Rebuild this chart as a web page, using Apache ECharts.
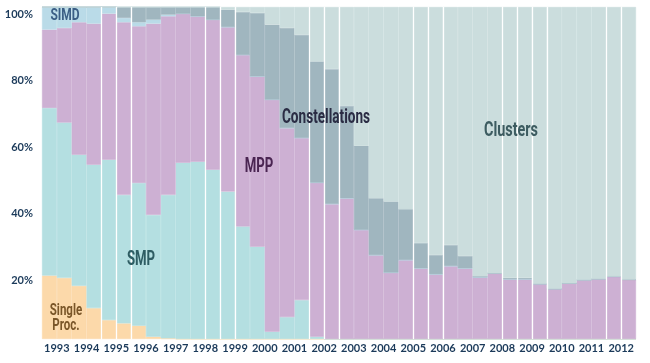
<!DOCTYPE html>
<html>
<head>
<meta charset="utf-8">
<script src="https://cdn.jsdelivr.net/npm/echarts@6/dist/echarts.min.js"></script>
<style>html,body{margin:0;padding:0;background:#fff}#c{width:650px;height:363px}</style>
</head>
<body>
<div id="c"></div>
<script>
// 40 semi-annual lists (June / November), 1993-2012
var years = ['1993','1994','1995','1996','1997','1998','1999','2000','2001','2002','2003','2004','2005','2006','2007','2008','2009','2010','2011','2012'];
var lists = [];
years.forEach(function(y){ lists.push(y+'-06'); lists.push(y+'-11'); });

var singleProc = [19.1,18.4,16.0,9.3,5.7,4.7,4.0,0.7,0.2,0, 0,0,0,0,0,0,0,0,0,0, 0,0,0,0,0,0,0,0,0,0, 0,0,0,0,0,0,0,0,0,0];
var smp = [50.5,46.8,39.5,43.2,48.3,38.7,43.0,36.7,43.2,53.1, 53.4,51.0,44.4,33.9,27.8,2.2,6.6,11.7,0.7,0, 0,0,0,0,0,0,0,0,0,0, 0,0,0,0,0,0,0,0,0,0];
var mpp = [23.6,28.5,39.9,42.5,44.0,52.0,47.2,57.6,53.8,44.9, 43.8,45.2,49.6,51.7,51.3,69.9,57.0,48.9,46.4,40.7, 42.4,32.9,25.3,20.0,23.8,21.3,19.5,22.0,21.3,18.6, 19.8,18.0,18.0,16.6,15.1,16.8,17.8,18.1,18.8,17.9];
var simd = [6.8,6.3,4.6,5.0,2.0,1.3,1.2,1.2,0.5,0, 0,0,0,0,0,0,0,0,0,0, 0,0,0,0,0,0,0,0,0,0, 0,0,0,0,0,0,0,0,0,0];
var constellations = [0,0,0,0,0,3.3,4.6,3.8,2.3,2.0, 2.8,3.8,5.2,12.9,19.1,22.6,30.1,31.0,36.5,40.6, 27.8,25.3,17.1,21.4,15.3,7.6,5.8,6.3,3.7,0.3, 0,0.4,0.4,0,0,0,0,0,0,0];
var clusters = [0,0,0,0,0,0,0,0,0,0, 0,0,0.8,1.5,1.8,5.3,6.3,8.4,16.4,18.7, 29.8,41.8,57.6,58.6,60.9,71.1,74.7,71.7,75.0,81.1, 80.2,81.6,81.6,83.4,84.9,83.2,82.2,81.9,81.2,82.1];

var yTicks = [0,20,40,60,80,100];
// white divider lines between lists
var dividers = [4,5,6,11,12,13,18,19,20,25,26,27,31,32,33,34,38,39];

var colors = {
  single:'#fcd9aa', smp:'#b4dfe1', mpp:'#cdb0d3', simd:'#badbe8', cons:'#a0b6bf', clus:'#cbdddd'
};

function bar(name, data, color){
  return {name:name, type:'bar', stack:'all', data:data, barWidth:'100%', barCategoryGap:0,
    itemStyle:{color:color, borderColor:color, borderWidth:0.6}, emphasis:{disabled:true},
    xAxisIndex:0, yAxisIndex:0, silent:true};
}

var chart = echarts.init(document.getElementById('c'), null, {renderer:'canvas'});
var fontAxis = 'Lato, "Open Sans", sans-serif';
var fontNote = 'Roboto, "Open Sans", sans-serif';

function note(text, x, y, size, sx, color, extra){
  var st = {text:text, fill:color, font:'bold '+size+'px '+fontNote, align:'center', verticalAlign:'middle'};
  if (extra) for (var k in extra) st[k] = extra[k];
  return {type:'text', z:100, x:x, y:y, scaleX:sx, scaleY:1, style:st};
}

chart.setOption({
  animation:false,
  backgroundColor:'#ffffff',
  grid:{left:42, right:14, top:7, bottom:24},
  xAxis:[
    {type:'category', data:lists, show:false, boundaryGap:true},
    {type:'category', data:years, position:'bottom', boundaryGap:true,
      axisLine:{show:false}, axisTick:{show:false}, splitLine:{show:false},
      axisLabel:{interval:0, margin:4, color:'#1b3a5a', fontFamily:fontAxis, fontWeight:'bold', fontSize:11}},
    {type:'value', min:0, max:40, show:false}
  ],
  yAxis:[{type:'value', min:0, max:100, interval:20,
    axisLine:{show:false}, axisTick:{show:false}, splitLine:{show:false},
    axisLabel:{margin:9, color:'#1b3a5a', fontFamily:fontAxis, fontWeight:'bold', fontSize:11,
      verticalAlign:'top', padding:[2,0,0,0],
      formatter:function(v){ return v===0 ? '' : v+'%'; }}
  }],
  series:[
    bar('Single Proc.', singleProc, colors.single),
    bar('SMP', smp, colors.smp),
    bar('MPP', mpp, colors.mpp),
    bar('SIMD', simd, colors.simd),
    bar('Constellations', constellations, colors.cons),
    bar('Clusters', clusters, colors.clus),
    {type:'line', xAxisIndex:2, yAxisIndex:0, data:[], silent:true, z:5,
      markLine:{silent:true, symbol:['none','none'], animation:false,
        label:{show:false}, lineStyle:{color:'#ffffff', width:1.3, type:'solid'},
        data:dividers.map(function(d){ return {xAxis:d}; })}}
  ],
  graphic:{elements:[
    note('SIMD', 65, 16, 16, 0.75, '#3c5f85'),
    note('Constellations', 326, 118, 20, 0.68, '#2a2c44'),
    note('MPP', 259, 167, 20, 0.66, '#4a2552'),
    note('Clusters', 511, 131, 20, 0.72, '#3d5c61'),
    note('SMP', 141, 260, 20, 0.66, '#2e5d63'),
    note('Single\nProc.', 66, 318, 16, 0.72, '#7a5629', {lineHeight:15})
  ]}
});
</script>
</body>
</html>
